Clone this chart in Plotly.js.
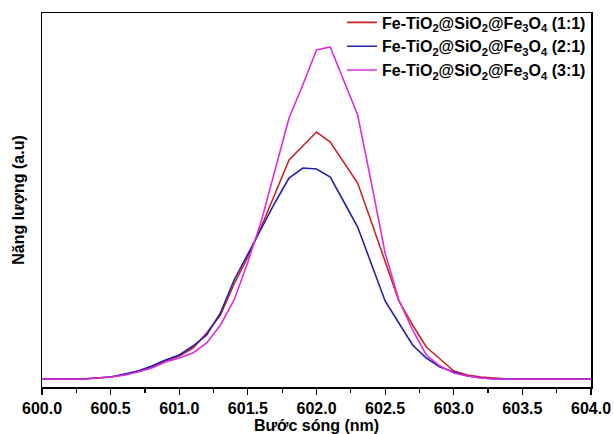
<!DOCTYPE html>
<html>
<head>
<meta charset="utf-8">
<script src="https://cdn.plot.ly/plotly-3.0.1.min.js"></script>
<style>html,body{margin:0;padding:0;background:#fff;}#chart{width:614px;height:434px;}</style>
</head>
<body>
<div id="chart"></div>
<script>
var wavelength = [600.0,600.1,600.2,600.3,600.4,600.5,600.6,600.7,600.8,600.9,
  601.0,601.1,601.2,601.3,601.4,601.5,601.6,601.7,601.8,601.9,
  602.0,602.1,602.2,602.3,602.4,602.5,602.6,602.7,602.8,602.9,
  603.0,603.1,603.2,603.3,603.4,603.5,603.6,603.7,603.8,603.9,604.0];
var ratio11 = [8,8,8,8,9,10,12,16,20,26,
  31,39,54,72,103,130,161,194,227,241,
  255,245,225,204,165,125,86,62,40,28,
  16,12,10,9,8,8,8,8,8,8,8];
var ratio21 = [8,8,8,8,9,10,13,16,21,27,
  32,41,52,74,107,133,158,185,209,219,
  218,210,185,160,123,86,64,42,29,20,
  15,11,9,8,8,8,8,8,8,8,8];
var ratio31 = [8,8,8,8,9,10,12,15,19,25,
  29,34,44,62,87,125,167,217,269,302,
  337,340,306,272,204,134,87,57,32,21,
  14,11,9,8,8,8,8,8,8,8,8];
var seriesNames = [
  'Fe-TiO<sub>2</sub>@SiO<sub>2</sub>@Fe<sub>3</sub>O<sub>4</sub> (1:1)',
  'Fe-TiO<sub>2</sub>@SiO<sub>2</sub>@Fe<sub>3</sub>O<sub>4</sub> (2:1)',
  'Fe-TiO<sub>2</sub>@SiO<sub>2</sub>@Fe<sub>3</sub>O<sub>4</sub> (3:1)'
];
var xTickVals = [600.0,600.5,601.0,601.5,602.0,602.5,603.0,603.5,604.0];
var xTickText = ['600.0','600.5','601.0','601.5','602.0','602.5','603.0','603.5','604.0'];

var colors = ['#cc2424', '#2222aa', '#dd2ddd'];
var ys = [ratio11, ratio21, ratio31];
var traces = ys.map(function(y, i){
  return {x: wavelength, y: y, type: 'scatter', mode: 'lines', name: seriesNames[i],
          line: {color: colors[i], width: 1.6}};
});
var fnt = {family: 'Arial, "Liberation Sans", sans-serif', size: 16, color: '#000', weight: 'bold'};
var layout = {
  width: 614, height: 434,
  margin: {l: 42, r: 23, t: 13, b: 47, autoexpand: false},
  paper_bgcolor: '#fff', plot_bgcolor: '#fff',
  showlegend: true,
  legend: {x: 1, xanchor: 'right', y: 1.02, yanchor: 'top', bgcolor: 'rgba(0,0,0,0)',
           font: {family: fnt.family, size: 16, color: '#000', weight: 'bold'}, tracegroupgap: 0},
  xaxis: {range: [600, 604], tickvals: xTickVals, ticktext: xTickText,
          ticks: 'outside', ticklen: 6, tickwidth: 1.2, tickcolor: '#000',
          minor: {dtick: 0.25, tick0: 600, ticks: 'outside', ticklen: 4, tickwidth: 1.2, tickcolor: '#000'},
          showline: true, linecolor: '#000', linewidth: 1.5, mirror: true,
          showgrid: false, zeroline: false, tickfont: fnt,
          title: {text: 'Bước sóng (nm)', font: fnt, standoff: 6}},
  yaxis: {range: [0, 374], showticklabels: false, ticks: '',
          showline: true, linecolor: '#000', linewidth: 1.5, mirror: true,
          showgrid: false, zeroline: false,
          title: {text: 'Năng lượng (a.u)', font: fnt, standoff: 12}}
};
Plotly.newPlot('chart', traces, layout, {displayModeBar: false, staticPlot: true});
</script>
</body>
</html>
